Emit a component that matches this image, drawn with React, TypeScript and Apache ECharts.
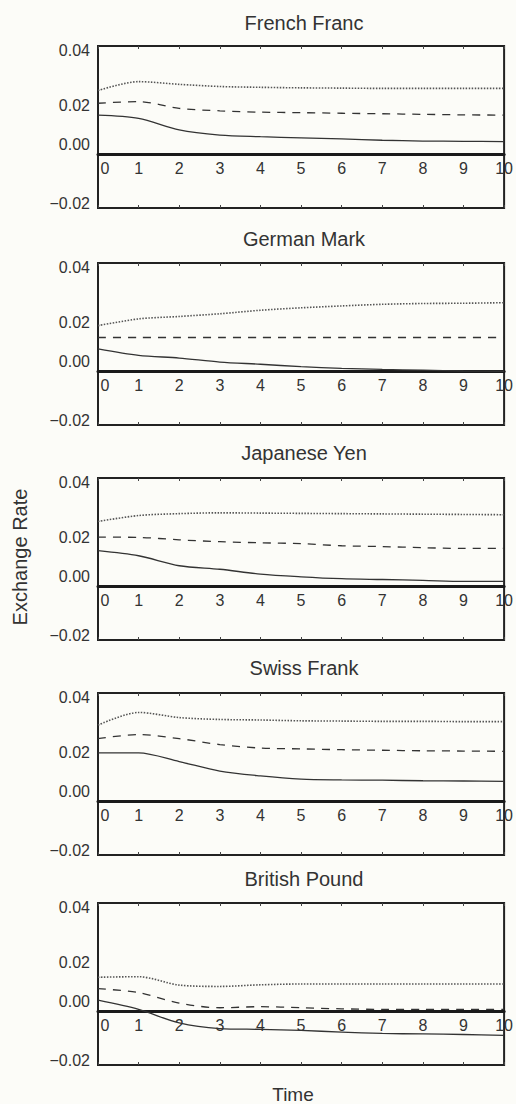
import React, { useEffect, useRef } from "react";
import * as echarts from "echarts";

const times = [0, 1, 2, 3, 4, 5, 6, 7, 8, 9, 10];
const panelTitles = ["French Franc", "German Mark", "Japanese Yen", "Swiss Frank", "British Pound"];
const yTickValues = [-0.02, 0, 0.02, 0.04];
const yTickLabels = ["\u22120.02", "0.00", "0.02", "0.04"];

const ffUpper = [0.0235, 0.0268, 0.0258, 0.025, 0.0247, 0.0245, 0.0244, 0.0243, 0.0243, 0.0243, 0.0243];
const ffMid = [0.0188, 0.0194, 0.0169, 0.016, 0.0155, 0.0153, 0.0151, 0.0149, 0.0147, 0.0145, 0.0144];
const ffLower = [0.0144, 0.0132, 0.0089, 0.007, 0.0064, 0.006, 0.0056, 0.0051, 0.0048, 0.0047, 0.0046];

const gmUpper = [0.0168, 0.0193, 0.0202, 0.0212, 0.0225, 0.0234, 0.0241, 0.0247, 0.025, 0.0251, 0.0253];
const gmMid = [0.0124, 0.0124, 0.0124, 0.0124, 0.0124, 0.0124, 0.0124, 0.0124, 0.0124, 0.0124, 0.0124];
const gmLower = [0.0082, 0.0058, 0.0048, 0.0033, 0.0025, 0.0016, 0.001, 0.0006, 0.0003, 0.0, -0.0001];

const jyUpper = [0.0239, 0.0261, 0.0268, 0.0271, 0.027, 0.0269, 0.0268, 0.0267, 0.0266, 0.0265, 0.0264];
const jyMid = [0.0181, 0.018, 0.0171, 0.0164, 0.016, 0.0157, 0.0149, 0.0146, 0.0142, 0.0139, 0.0139];
const jyLower = [0.0131, 0.0112, 0.0075, 0.0062, 0.0044, 0.0034, 0.0027, 0.0024, 0.0021, 0.0017, 0.0017];

const sfUpper = [0.0281, 0.0328, 0.0309, 0.0302, 0.03, 0.0297, 0.0296, 0.0295, 0.0295, 0.0294, 0.0294];
const sfMid = [0.0231, 0.0246, 0.0231, 0.0209, 0.0196, 0.0193, 0.019, 0.0188, 0.0186, 0.0185, 0.0184];
const sfLower = [0.0178, 0.0178, 0.0146, 0.0111, 0.0093, 0.0081, 0.0078, 0.0077, 0.0075, 0.0074, 0.0073];

const bpUpper = [0.0125, 0.0127, 0.0096, 0.0091, 0.0097, 0.01, 0.01, 0.01, 0.01, 0.01, 0.01];
const bpMid = [0.0083, 0.0068, 0.0029, 0.0012, 0.0016, 0.0012, 0.0008, 0.0006, 0.0006, 0.0006, 0.0006];
const bpLower = [0.004, 0.0006, -0.0044, -0.0065, -0.0068, -0.0072, -0.0078, -0.0083, -0.0085, -0.0087, -0.009];

const upperSeries = [ffUpper, gmUpper, jyUpper, sfUpper, bpUpper];
const midSeries = [ffMid, gmMid, jyMid, sfMid, bpMid];
const lowerSeries = [ffLower, gmLower, jyLower, sfLower, bpLower];

const FONT = "Liberation Sans, Arial, Helvetica, sans-serif";

export default function App() {
  const ref = useRef<HTMLDivElement>(null);

  useEffect(() => {
    if (!ref.current) return;
    const chart = echarts.init(ref.current, undefined, { renderer: "svg" });

    const gridTops = [46, 263, 478, 693, 903];
    const titleYs = [23, 239, 453, 668, 879];
    const gridLeft = 98;
    const gridWidth = 411;
    const gridHeight = 162;
    const yMin = -0.02;
    const yMax = 0.04;
    const zeroOffset = -gridHeight * ((0 - yMin) / (yMax - yMin));

    const grids: any[] = [];
    const xAxes: any[] = [];
    const yAxes: any[] = [];
    const series: any[] = [];
    const graphics: any[] = [];

    const labelColor = "#333";

    panelTitles.forEach((title, i) => {
      grids.push({
        left: gridLeft,
        top: gridTops[i],
        width: gridWidth,
        height: gridHeight,
        show: true,
        borderColor: "#222",
        borderWidth: 2,
        backgroundColor: "transparent",
      });
      // main x axis: thick line along zero
      xAxes.push({
        type: "value",
        gridIndex: i,
        min: 0,
        max: 10,
        interval: 1,
        position: "bottom",
        axisLine: { show: true, onZero: true, lineStyle: { color: "#1a1a1a", width: 3 } },
        axisTick: { show: false },
        splitLine: { show: false },
        axisLabel: { show: false },
      });
      // top ticks
      xAxes.push({
        type: "value",
        gridIndex: i,
        min: 0,
        max: 10,
        interval: 1,
        position: "top",
        axisLine: { show: false, onZero: false },
        axisTick: { show: true, inside: true, length: 3, lineStyle: { color: "#444", width: 1 } },
        axisLabel: { show: false },
        splitLine: { show: false },
      });
      // bottom ticks
      xAxes.push({
        type: "value",
        gridIndex: i,
        min: 0,
        max: 10,
        interval: 1,
        position: "bottom",
        axisLine: { show: false, onZero: false },
        axisTick: { show: true, inside: true, length: 3, lineStyle: { color: "#444", width: 1 } },
        axisLabel: { show: false },
        splitLine: { show: false },
      });
      // labels placed just under the zero line
      xAxes.push({
        type: "value",
        gridIndex: i,
        min: 0,
        max: 10,
        interval: 1,
        position: "bottom",
        offset: zeroOffset,
        axisLine: { show: false, onZero: false },
        axisTick: { show: false },
        splitLine: { show: false },
        axisLabel: {
          show: true,
          color: labelColor,
          fontSize: 16,
          fontFamily: FONT,
          margin: 6,
          showMinLabel: true,
          showMaxLabel: true,
          hideOverlap: false,
          formatter: (v: number) => (v === 0 ? "{z|" + times[0] + "}" : String(times[v])),
          rich: { z: { padding: [0, 0, 0, 14], fontSize: 16, color: labelColor, fontFamily: FONT } },
        },
      });
      yAxes.push({
        type: "value",
        gridIndex: i,
        min: yMin,
        max: yMax,
        interval: 0.02,
        axisLine: { show: false },
        axisTick: { show: false },
        splitLine: { show: false },
        axisLabel: {
          color: labelColor,
          fontSize: 16,
          fontFamily: FONT,
          margin: 8,
          formatter: (v: number) => {
            const idx = yTickValues.findIndex((t) => Math.abs(t - v) < 1e-9);
            const keys = ["m", "z", "a", "b"];
            return "{" + keys[idx] + "|" + yTickLabels[idx] + "}";
          },
          rich: {
            m: { padding: [0, 0, 10, 0], fontSize: 16, color: labelColor, fontFamily: FONT },
            z: { padding: [0, 0, 20, 0], fontSize: 16, color: labelColor, fontFamily: FONT },
            a: { padding: [10, 0, 0, 0], fontSize: 16, color: labelColor, fontFamily: FONT },
            b: { padding: [8, 0, 0, 0], fontSize: 16, color: labelColor, fontFamily: FONT },
          },
        },
      });

      const xi = i * 4;
      series.push({
        type: "line",
        xAxisIndex: xi,
        yAxisIndex: i,
        data: times.map((t, k) => [t, upperSeries[i][k]]),
        showSymbol: false,
        symbol: "none",
        smooth: 0.3,
        lineStyle: { color: "#555", width: 1.6, type: [1.5, 1.5] },
      });
      series.push({
        type: "line",
        xAxisIndex: xi,
        yAxisIndex: i,
        data: times.map((t, k) => [t, midSeries[i][k]]),
        showSymbol: false,
        symbol: "none",
        smooth: 0.3,
        lineStyle: { color: "#333", width: 1.3, type: [8, 7] },
      });
      series.push({
        type: "line",
        xAxisIndex: xi,
        yAxisIndex: i,
        data: times.map((t, k) => [t, lowerSeries[i][k]]),
        showSymbol: false,
        symbol: "none",
        smooth: 0.3,
        lineStyle: { color: "#333", width: 1.3, type: "solid" },
      });

      graphics.push({
        type: "text",
        x: 304,
        y: titleYs[i],
        style: {
          text: title,
          fill: "#333",
          fontSize: 20,
          fontFamily: FONT,
          textAlign: "center",
          textVerticalAlign: "middle",
        },
      });
    });

    graphics.push({
      type: "text",
      x: 20,
      y: 557,
      rotation: Math.PI / 2,
      style: {
        text: "Exchange Rate",
        fill: "#333",
        fontSize: 20,
        fontFamily: FONT,
        textAlign: "center",
        textVerticalAlign: "middle",
      },
    });
    graphics.push({
      type: "text",
      x: 293,
      y: 1094,
      style: {
        text: "Time",
        fill: "#333",
        fontSize: 19,
        fontFamily: FONT,
        textAlign: "center",
        textVerticalAlign: "middle",
      },
    });

    chart.setOption({
      animation: false,
      backgroundColor: "#fcfcf8",
      grid: grids,
      xAxis: xAxes,
      yAxis: yAxes,
      series,
      graphic: graphics,
    });

    return () => {
      chart.dispose();
    };
  }, []);

  return (
    <div
      ref={ref}
      style={{ position: "absolute", left: 0, top: 0, width: 516, height: 1104 }}
    />
  );
}
